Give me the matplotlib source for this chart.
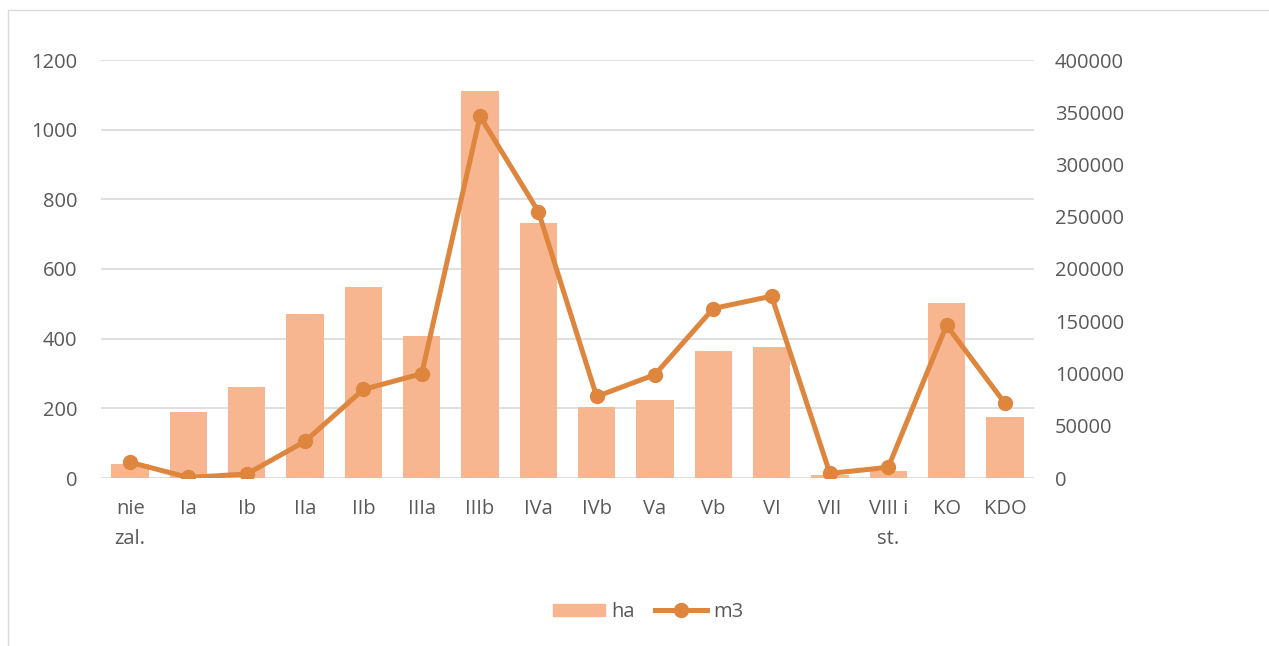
import numpy as np
import matplotlib
matplotlib.use('Agg')
import matplotlib.pyplot as plt
import matplotlib.patches as patches
from matplotlib.lines import Line2D

# Chart data
categories = ['nie\nzal.', 'Ia', 'Ib', 'IIa', 'IIb', 'IIIa', 'IIIb', 'IVa',
              'IVb', 'Va', 'Vb', 'VI', 'VII', 'VIII i\nst.', 'KO', 'KDO']
ha = [40, 189, 261, 470, 548, 409, 1110, 732,
      203, 223, 365, 376, 10, 21, 503, 174]
m3 = [15000, 500, 3800, 35100, 84800, 99800, 346200, 255000,
      78000, 98900, 162200, 174000, 4400, 10200, 146200, 71600]

bar_color = '#F7B590'
line_color = '#DE853E'
text_color = '#595959'
grid_color = '#D9D9D9'
fs = 14.5

plt.rcParams['font.family'] = ['Open Sans', 'DejaVu Sans']

fig = plt.figure(figsize=(12.69, 6.46), dpi=100)
ax = fig.add_axes([101/1269, 1-478/646, 933/1269, 418/646])
ax2 = ax.twinx()

x = np.arange(len(categories))
ax.bar(x, ha, width=0.64, color=bar_color, zorder=2)
ax2.plot(x, m3, color=line_color, lw=3.6, marker='o', ms=10, zorder=3)

ax.set_xlim(-0.5, len(categories) - 0.5)
ax.set_ylim(0, 1200)
ax2.set_ylim(0, 400000)
ax.set_yticks(np.arange(0, 1201, 200))
ax2.set_yticks(np.arange(0, 400001, 50000))
ax.set_xticks(x)
ax.set_xticklabels(categories, linespacing=1.65)

ax.yaxis.grid(True, color=grid_color, lw=1.2, zorder=0)
ax.set_axisbelow(True)
for a in (ax, ax2):
    for s in a.spines.values():
        s.set_visible(False)
    a.tick_params(length=0, labelsize=fs, labelcolor=text_color)
ax.tick_params(axis='y', pad=17)
ax2.tick_params(axis='y', pad=15)
ax.tick_params(axis='x', pad=15)

# legend
handles = [patches.Patch(color=bar_color, label='ha'),
           Line2D([0], [0], color=line_color, lw=3.6, marker='o', ms=10, label='m3')]
fig.legend(handles=handles, loc='center', bbox_to_anchor=(648/1269, 1-612/646),
           ncol=2, frameon=False, fontsize=fs, labelcolor=text_color,
           handlelength=2.6, handleheight=0.6, columnspacing=1.0, handletextpad=0.3)

# outer chart border
fig.patches.append(patches.Rectangle((8/1269, -0.1), 1.1, 1-10/646 + 0.1,
                                     transform=fig.transFigure, fill=False,
                                     edgecolor=grid_color, lw=1))

fig.savefig('out.png', dpi=100)
